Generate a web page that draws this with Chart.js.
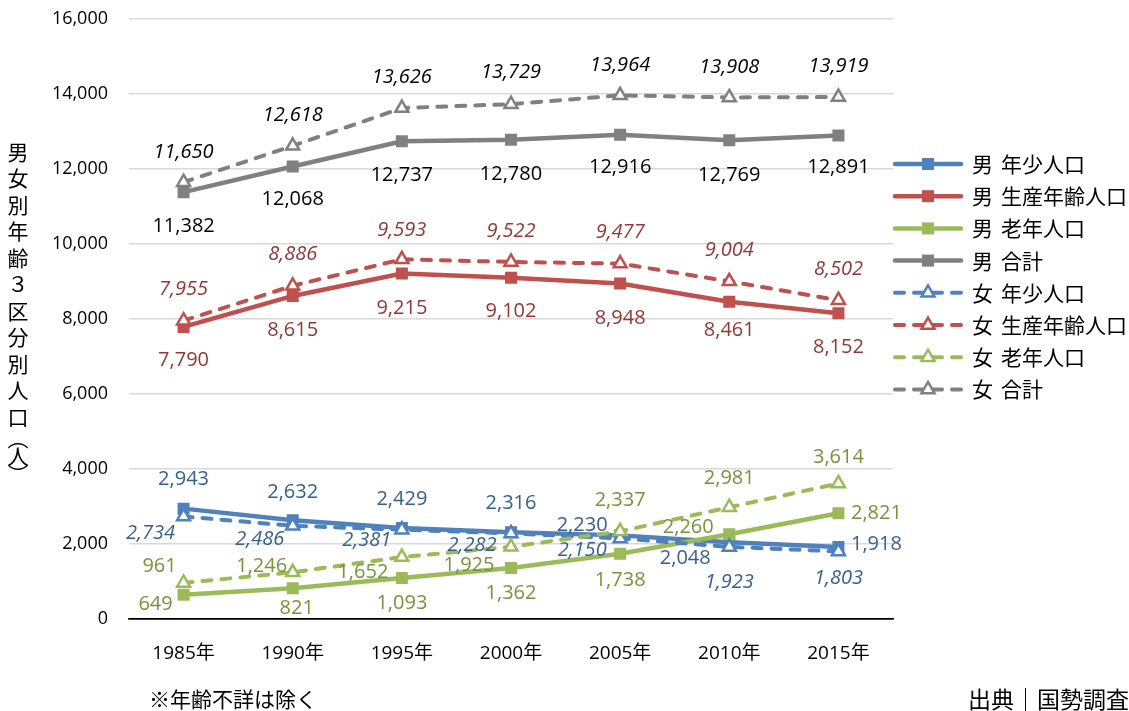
<!DOCTYPE html>
<html>
<head>
<meta charset="utf-8">
<script src="https://cdn.jsdelivr.net/npm/chart.js@4.4.1/dist/chart.umd.min.js"></script>
<style>
  html, body { margin: 0; padding: 0; background: #fff; }
  #wrap { width: 1129px; height: 711px; }
</style>
</head>
<body>
<div id="wrap"><canvas id="chart" width="1129" height="711"></canvas></div>
<script>
// DATA
const years = ["1985年", "1990年", "1995年", "2000年", "2005年", "2010年", "2015年"];

const male_young = [2943, 2632, 2429, 2316, 2230, 2048, 1918];
const male_working = [7790, 8615, 9215, 9102, 8948, 8461, 8152];
const male_old = [649, 821, 1093, 1362, 1738, 2260, 2821];
const male_total = [11382, 12068, 12737, 12780, 12916, 12769, 12891];
const female_young = [2734, 2486, 2381, 2282, 2150, 1923, 1803];
const female_working = [7955, 8886, 9593, 9522, 9477, 9004, 8502];
const female_old = [961, 1246, 1652, 1925, 2337, 2981, 3614];
const female_total = [11650, 12618, 13626, 13729, 13964, 13908, 13919];

const series_names = [
  "男 年少人口", "男 生産年齢人口", "男 老年人口", "男 合計",
  "女 年少人口", "女 生産年齢人口", "女 老年人口", "女 合計",
];

const y_ticks = [0, 2000, 4000, 6000, 8000, 10000, 12000, 14000, 16000];
const y_title = "男女別年齢３区分別人口";
const note_text = "※年齢不詳は除く";
const source_text = "出典｜国勢調査";

// label placement relative to each point (dx, dy)
const off_male_young = [[0,-29],[0,-28],[0,-29],[0,-29],[-38,-10],[-44,16],[38,-3]];
const off_male_working = [[0,33],[0,34],[0,35],[0,34],[0,35],[0,29],[0,34]];
const off_male_old = [[-28,10],[4,20],[0,25],[0,25],[0,26],[-41,-7],[38,0]];
const off_male_total = [[0,34],[0,33],[0,34],[0,35],[0,33],[0,35],[0,32]];
const off_female_young = [[-33,17],[-33,14],[-35,11],[-39,12],[-38,12],[0,35],[0,27]];
const off_female_working = [[0,-31],[0,-31],[0,-29],[0,-31],[0,-31],[0,-31],[0,-31]];
const off_female_old = [[-24,-17],[-31,-6],[-39,15],[-42,18],[0,-31],[0,-29],[0,-26]];
const off_female_total = [[0,-30],[0,-31],[0,-31],[0,-32],[0,-30],[0,-30],[0,-31]];

const FONT = '"Open Sans", "Noto Sans CJK JP", sans-serif';
const JP_FONT = '"Noto Sans CJK JP", sans-serif';

const BLUE = "#4F81BD", RED = "#C0504D", GREEN = "#9BBB59", GRAY = "#808080";

function maleSet(idx, data, color, labelColor, offsets) {
  return {
    label: series_names[idx],
    data: data,
    borderColor: color,
    backgroundColor: color,
    borderWidth: 4.5,
    pointStyle: "rect",
    pointRadius: 8.5,
    pointHoverRadius: 8.5,
    pointBackgroundColor: color,
    pointBorderColor: color,
    pointBorderWidth: 0,
    order: 8 - idx,
    labelColor: labelColor,
    labelItalic: false,
    labelOffsets: offsets,
  };
}

function femaleSet(idx, data, color, labelColor, offsets, italic) {
  return {
    label: series_names[idx],
    data: data,
    borderColor: color,
    backgroundColor: "#fff",
    borderWidth: 4,
    borderDash: [9, 10],
    borderCapStyle: "round",
    pointStyle: "triangle",
    pointRadius: 7.5,
    pointHoverRadius: 7.5,
    pointBackgroundColor: "#fff",
    pointBorderColor: color,
    pointBorderWidth: 2.5,
    order: 8 - idx,
    labelColor: labelColor,
    labelItalic: italic,
    labelOffsets: offsets,
  };
}

const datasets = [
  maleSet(0, male_young, BLUE, "#376092", off_male_young),
  maleSet(1, male_working, RED, "#953735", off_male_working),
  maleSet(2, male_old, GREEN, "#77933C", off_male_old),
  maleSet(3, male_total, GRAY, "#000000", off_male_total),
  femaleSet(4, female_young, BLUE, "#376092", off_female_young, true),
  femaleSet(5, female_working, RED, "#953735", off_female_working, true),
  femaleSet(6, female_old, GREEN, "#77933C", off_female_old, false),
  femaleSet(7, female_total, GRAY, "#000000", off_female_total, true),
];

// POINT LABELS
const pointLabels = {
  id: "pointLabels",
  afterDatasetsDraw(chart) {
    const ctx = chart.ctx;
    chart.data.datasets.forEach((ds, i) => {
      const meta = chart.getDatasetMeta(i);
      ctx.save();
      ctx.font = (ds.labelItalic ? "italic " : "") + "20px " + FONT;
      ctx.fillStyle = ds.labelColor;
      ctx.textAlign = "center";
      ctx.textBaseline = "middle";
      meta.data.forEach((pt, j) => {
        const off = ds.labelOffsets[j];
        ctx.fillText(ds.data[j].toLocaleString("en-US"), pt.x + off[0], pt.y + off[1]);
      });
      ctx.restore();
    });
  },
};

function drawMarker(ctx, ds, x, y) {
  ctx.save();
  if (ds.pointStyle === "rect") {
    const s = ds.pointRadius * Math.SQRT1_2;
    ctx.fillStyle = ds.pointBackgroundColor;
    ctx.fillRect(x - s, y - s, 2 * s, 2 * s);
  } else {
    const r = ds.pointRadius;
    ctx.beginPath();
    ctx.moveTo(x, y - r);
    ctx.lineTo(x + r * Math.sin(Math.PI * 2 / 3), y + r / 2);
    ctx.lineTo(x - r * Math.sin(Math.PI * 2 / 3), y + r / 2);
    ctx.closePath();
    ctx.fillStyle = ds.pointBackgroundColor;
    ctx.fill();
    ctx.lineWidth = ds.pointBorderWidth;
    ctx.strokeStyle = ds.pointBorderColor;
    ctx.stroke();
  }
  ctx.restore();
}

// LEGEND, AXIS TITLE, NOTES
const extras = {
  id: "extras",
  afterDraw(chart) {
    const ctx = chart.ctx;
    const area = chart.chartArea;

    // legend
    chart.data.datasets.forEach((ds, i) => {
      const y = 164 + i * 32.2;
      const x0 = area.right, x1 = area.right + 70;
      ctx.save();
      ctx.strokeStyle = ds.borderColor;
      ctx.lineWidth = ds.borderWidth;
      ctx.lineCap = "round";
      ctx.setLineDash(ds.borderDash || []);
      ctx.beginPath();
      ctx.moveTo(x0 + 2, y);
      ctx.lineTo(x1 - 2, y);
      ctx.stroke();
      ctx.restore();
      drawMarker(ctx, ds, (x0 + x1) / 2, y);
      ctx.save();
      ctx.fillStyle = "#000";
      ctx.font = "21px " + JP_FONT;
      ctx.textAlign = "left";
      ctx.textBaseline = "middle";
      const parts = ds.label.split(" ");
      ctx.fillText(parts[0], x1 + 9, y);
      ctx.fillText(parts[1], x1 + 9 + 29, y);
      ctx.restore();
    });

    // vertical y axis title
    ctx.save();
    ctx.fillStyle = "#000";
    ctx.font = "21px " + JP_FONT;
    ctx.textAlign = "center";
    ctx.textBaseline = "middle";
    const chars = Array.from(y_title);
    chars.forEach((c, k) => ctx.fillText(c, 18, 152 + k * 26.5));
    let yy = 152 + chars.length * 26.5;
    ctx.fillText("︵", 18, yy - 5);
    ctx.fillText("人", 18, yy + 13);
    ctx.fillText("︶", 18, yy + 31);
    ctx.restore();

    // notes
    ctx.save();
    ctx.fillStyle = "#000";
    ctx.textBaseline = "middle";
    ctx.font = "21px " + JP_FONT;
    ctx.textAlign = "left";
    ctx.fillText(note_text, 149, 699);
    ctx.font = "23px " + JP_FONT;
    ctx.fillText(source_text, 968, 699);
    ctx.restore();
  },
};

const ctx = document.getElementById("chart").getContext("2d");

new Chart(ctx, {
  type: "line",
  data: { labels: years, datasets: datasets },
  plugins: [pointLabels, extras],
  options: {
    responsive: false,
    animation: false,
    layout: { autoPadding: false, padding: { top: 19, right: 236, bottom: 32, left: 0 } },
    plugins: {
      legend: { display: false },
      tooltip: { enabled: false },
    },
    scales: {
      x: {
        offset: true,
        grid: { display: false, drawTicks: false },
        border: { display: true, color: "#000", width: 1.5 },
        ticks: {
          color: "#000",
          font: { family: FONT, size: 19 },
          padding: 23,
        },
        afterFit(scale) { scale.height = 60; },
      },
      y: {
        min: 0,
        max: 16000,
        afterBuildTicks(scale) { scale.ticks = y_ticks.map((v) => ({ value: v })); },
        grid: {
          drawTicks: false,
          color: (c) => (c.tick && c.tick.value === 0 ? "#000" : "#D9D9D9"),
          lineWidth: 1.5,
        },
        border: { display: false },
        ticks: {
          color: "#000",
          font: { family: FONT, size: 18 },
          padding: 21,
          callback: (v) => Number(v).toLocaleString("en-US"),
        },
        // keep the plot area exactly where the reference has it
        afterFit(scale) { scale.width = 129; scale.paddingTop = 0; scale.paddingBottom = 0; },
      },
    },
  },
});
</script>
</body>
</html>
